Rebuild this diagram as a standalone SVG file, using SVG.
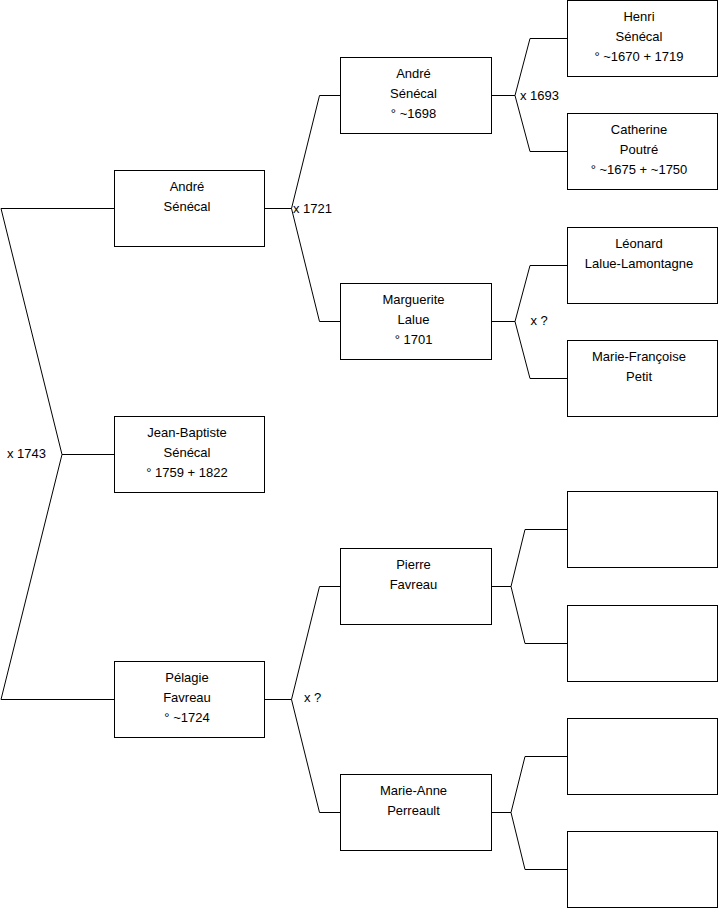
<svg xmlns="http://www.w3.org/2000/svg" width="719" height="908" viewBox="0 0 719 908">
<style>
rect.box{fill:#fff;stroke:#000;stroke-width:1}
.conn path{fill:none;stroke:#000;stroke-width:1}
text{font-family:"Liberation Sans",Arial,sans-serif;font-size:13px;fill:#000}
.n text{text-anchor:middle}
</style>
<rect width="719" height="908" fill="#fff"/>
<g id="connectors" class="conn">
<path d="M114.5 208.5H1L62 454.5H114.5M62 454.5L1 699.5H114.5"/>
<path d="M264.5 208.5H291.5L319.5 95.5H340.5M291.5 208.5L319.5 321.5H340.5"/>
<path d="M264.5 699.5H291.5L319.5 586.5H340.5M291.5 699.5L319.5 812.5H340.5"/>
<path d="M491.5 95.5H515L530 38.5H567.5M515 95.5L530 151.5H567.5"/>
<path d="M491.5 321.5H515L530 265.5H567.5M515 321.5L530 378.5H567.5"/>
<path d="M491.5 586.5H511L525 529.5H567.5M511 586.5L525 643.5H567.5"/>
<path d="M491.5 812.5H511L525 756.5H567.5M511 812.5L525 869.5H567.5"/>
</g>
<g id="labels">
<text x="7" y="457.5">x 1743</text>
<text x="293" y="212.5">x 1721</text>
<text x="520" y="99.5">x 1693</text>
<text x="530.5" y="324.5">x ?</text>
<text x="304" y="702">x ?</text>
</g>
<g id="n-andre1" class="n"><rect class="box" x="114.5" y="170.5" width="150" height="76"/><text x="187" y="190.5">André</text><text x="187" y="210.5">Sénécal</text></g>
<g id="n-jeanbaptiste" class="n"><rect class="box" x="114.5" y="416.5" width="150" height="76"/><text x="187" y="436.5">Jean-Baptiste</text><text x="187" y="456.5">Sénécal</text><text x="187" y="476.5">° 1759 + 1822</text></g>
<g id="n-pelagie" class="n"><rect class="box" x="114.5" y="661.5" width="150" height="76"/><text x="187" y="681.5">Pélagie</text><text x="187" y="701.5">Favreau</text><text x="187" y="721.5">° ~1724</text></g>
<g id="n-andre2" class="n"><rect class="box" x="340.5" y="57.5" width="151" height="76"/><text x="413.5" y="77.5">André</text><text x="413.5" y="97.5">Sénécal</text><text x="413.5" y="117.5">° ~1698</text></g>
<g id="n-marguerite" class="n"><rect class="box" x="340.5" y="283.5" width="151" height="76"/><text x="413.5" y="303.5">Marguerite</text><text x="413.5" y="323.5">Lalue</text><text x="413.5" y="343.5">° 1701</text></g>
<g id="n-pierre" class="n"><rect class="box" x="340.5" y="548.5" width="151" height="76"/><text x="413.5" y="568.5">Pierre</text><text x="413.5" y="588.5">Favreau</text></g>
<g id="n-marieanne" class="n"><rect class="box" x="340.5" y="774.5" width="151" height="76"/><text x="413.5" y="794.5">Marie-Anne</text><text x="413.5" y="814.5">Perreault</text></g>
<g id="n-henri" class="n"><rect class="box" x="567.5" y="0.5" width="150" height="76"/><text x="639" y="20.5">Henri</text><text x="639" y="40.5">Sénécal</text><text x="639" y="60.5">° ~1670 + 1719</text></g>
<g id="n-catherine" class="n"><rect class="box" x="567.5" y="113.5" width="150" height="76"/><text x="639" y="133.5">Catherine</text><text x="639" y="153.5">Poutré</text><text x="639" y="173.5">° ~1675 + ~1750</text></g>
<g id="n-leonard" class="n"><rect class="box" x="567.5" y="227.5" width="150" height="76"/><text x="639" y="247.5">Léonard</text><text x="639" y="267.5">Lalue-Lamontagne</text></g>
<g id="n-mariefrancoise" class="n"><rect class="box" x="567.5" y="340.5" width="150" height="76"/><text x="639" y="360.5">Marie-Françoise</text><text x="639" y="380.5">Petit</text></g>
<g id="n-empty1" class="n"><rect class="box" x="567.5" y="491.5" width="150" height="76"/></g>
<g id="n-empty2" class="n"><rect class="box" x="567.5" y="605.5" width="150" height="76"/></g>
<g id="n-empty3" class="n"><rect class="box" x="567.5" y="718.5" width="150" height="76"/></g>
<g id="n-empty4" class="n"><rect class="box" x="567.5" y="831.5" width="150" height="76"/></g>
</svg>
